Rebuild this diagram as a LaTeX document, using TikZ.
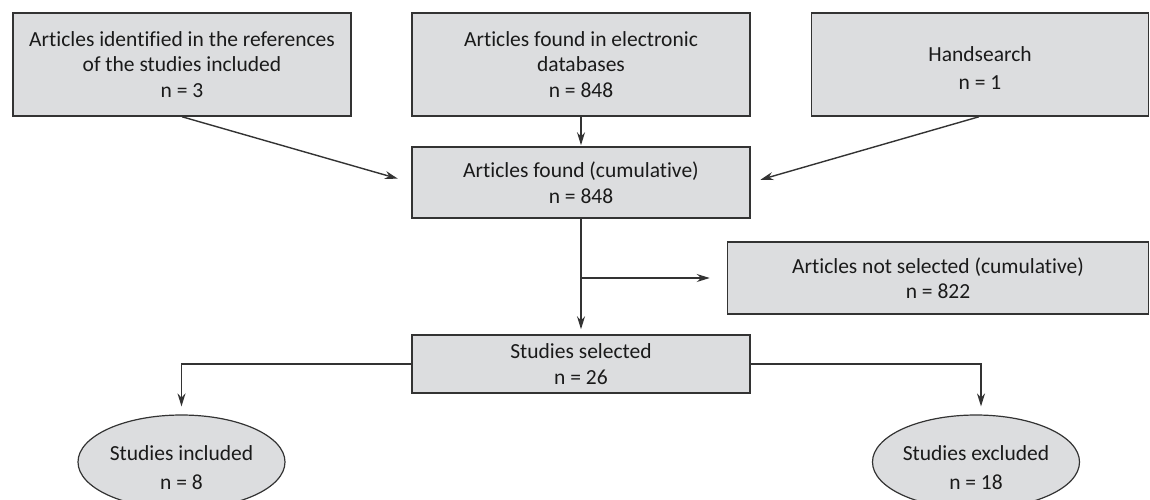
\documentclass[tikz,border=0pt]{standalone}
\usepackage{fontspec}
\setmainfont[Ligatures=NoCommon]{Carlito}
\usetikzlibrary{arrows.meta,shapes.geometric}
\definecolor{boxfill}{HTML}{DCDDDF}
\definecolor{edge}{HTML}{333333}
\definecolor{ink}{HTML}{1A1A1A}
\begin{document}
\begin{tikzpicture}[x=1pt,y=-1pt,
  every node/.style={font=\fontsize{21.5}{25.5}\selectfont, text=ink, align=center},
  box/.style={draw=edge, fill=boxfill, line width=1.5pt, rectangle, inner sep=0pt},
  oval/.style={draw=edge, fill=boxfill, line width=1.2pt, ellipse, inner sep=0pt, minimum width=207pt, minimum height=94pt},
  conn/.style={draw=edge, line width=1.4pt, -{Stealth[length=13pt,width=8pt]}}]
\useasboundingbox (0,0) rectangle (1150,499);
\begin{scope}
\clip (0,0) rectangle (1150,499);
\node[box, minimum width=338pt, minimum height=103pt] (ref) at (182,64.5)
  {Articles identified in the references\\of the studies included\\n = 3};
\node[box, minimum width=338pt, minimum height=103pt] (elec) at (581,64.5)
  {Articles found in electronic\\databases\\n = 848};
\node[box, minimum width=337pt, minimum height=103pt] (hand) at (980,64.5)
  {\rule{0pt}{22pt}Handsearch\\[2pt]n = 1};
\node[box, minimum width=338pt, minimum height=71pt] (cum) at (581,182.5)
  {Articles found (cumulative)\\n = 848};
\node[box, minimum width=421pt, minimum height=72pt] (notsel) at (938,278)
  {Articles not selected (cumulative)\\n = 822};
\node[box, minimum width=338pt, minimum height=58pt] (sel) at (581,364)
  {Studies selected\\n = 26};
\node[oval] (inc) at (181.5,462) {\rule{0pt}{26pt}Studies included\\[3pt]n = 8};
\node[oval] (exc) at (976,462) {\rule{0pt}{26pt}Studies excluded\\[3pt]n = 18};
\coordinate (br) at (581,278);

\draw[conn, shorten >=14pt] (ref.south) -- (cum.west);
\draw[conn, shorten >=10pt] ([xshift=-1pt]hand.south) -- (cum.east);
\draw[conn, shorten >=1pt] (elec.south) -- (cum.north);
\draw[conn, shorten >=5pt] (cum.south) -- (sel.north);
\draw[conn, shorten >=17pt] (br) -- (notsel.west);
\draw[conn, shorten >=8pt] (sel.west) -| (inc.north);
\draw[conn, shorten >=8pt] (sel.east) -| ([xshift=5pt]exc.north);
\end{scope}
\end{tikzpicture}
\end{document}
